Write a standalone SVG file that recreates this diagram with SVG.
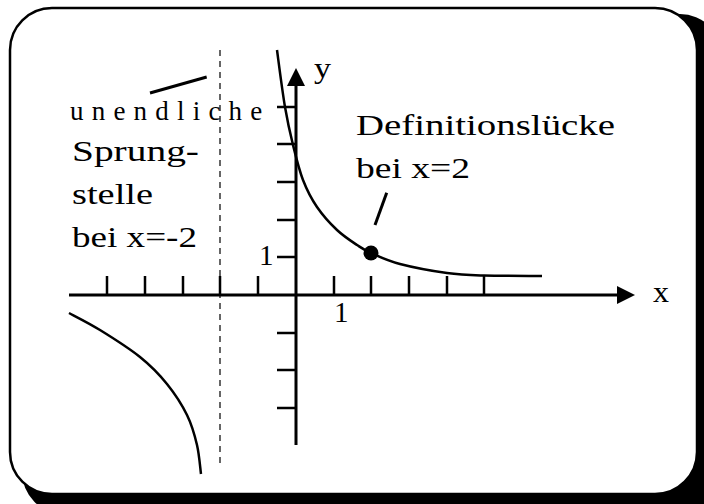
<svg xmlns="http://www.w3.org/2000/svg" width="704" height="504" viewBox="0 0 704 504">
<style>
.t{font-family:"Liberation Serif","Times New Roman",serif;font-size:29px;fill:#000}
.ax{stroke:#000;stroke-width:3;fill:none}
.tk{stroke:#000;stroke-width:2.5;fill:none}
.cv{stroke:#000;stroke-width:2.5;fill:none}
.ptr{stroke:#000;stroke-width:3;fill:none}
</style>
<g id="frame">
<rect x="22" y="14" width="700" height="500" rx="42" ry="42" fill="#000"/>
<rect x="10" y="8" width="687" height="486" rx="42" ry="42" fill="#fff" stroke="#000" stroke-width="2.5"/>
</g>
<g id="asymptote">
<line x1="220" y1="50" x2="220" y2="464" stroke="#000" stroke-width="1.2" stroke-dasharray="6 5"/>
</g>
<g id="x-axis">
<line class="ax" x1="69" y1="295" x2="620" y2="295"/>
<polygon points="635,295 617,286 617,304" fill="#000"/>
<path class="tk" d="M107,276V295M145,276V295M183,276V295M220,276V295M258,276V295M334,276V295M371,276V295M409,276V295M447,276V295M484,276V295"/>
<text class="t" x="653" y="302" textLength="16" lengthAdjust="spacingAndGlyphs">x</text>
<text class="t" x="334" y="322">1</text>
</g>
<g id="y-axis">
<line class="ax" x1="296" y1="445" x2="296" y2="84"/>
<polygon points="296,68 287,86 305,86" fill="#000"/>
<path class="tk" d="M277,107H296M277,144H296M277,182H296M277,220H296M277,257H296M277,333H296M277,370H296M277,408H296"/>
<text class="t" x="314" y="78" textLength="17" lengthAdjust="spacingAndGlyphs">y</text>
<text class="t" x="259" y="265">1</text>
</g>
<g id="right-branch">
<path class="cv" d="M277,50 C278.3,59.5 282.3,91.2 285,107 C287.7,122.8 290,132.8 293,145 C296,157.2 299,169.7 303,180 C307,190.3 311.3,198.7 317,207 C322.7,215.3 330.3,223.7 337,230 C343.7,236.3 351.3,241.2 357,245 C362.7,248.8 363.8,249.8 371,253 C378.2,256.2 387.3,260.7 400,264 C412.7,267.3 433,271.1 447,273 C461,274.9 468.2,275 484,275.5 C499.8,276 532.3,275.9 542,276"/>
<circle cx="371" cy="253" r="7.5" fill="#000"/>
</g>
<g id="left-branch">
<path class="cv" d="M69,313 C74.2,315.8 88.2,322.7 100,330 C111.8,337.3 128.8,348 140,357 C151.2,366 159.2,374.3 167,384 C174.8,393.7 182,404.8 187,415 C192,425.2 194.7,435.2 197,445 C199.3,454.8 200.3,469.2 201,474"/>
</g>
<g id="connectors">
<line class="ptr" x1="150" y1="93" x2="206.7" y2="77"/>
<line class="ptr" x1="375" y1="225" x2="386.7" y2="192.7"/>
</g>
<g id="label-sprungstelle">
<text class="t" x="70" y="120" style="font-size:27px;letter-spacing:8.2px">unendliche</text>
<text class="t" x="72" y="161" textLength="127" lengthAdjust="spacingAndGlyphs">Sprung-</text>
<text class="t" x="72" y="204" textLength="81" lengthAdjust="spacingAndGlyphs">stelle</text>
<text class="t" x="72" y="247" textLength="125" lengthAdjust="spacingAndGlyphs">bei x=-2</text>
</g>
<g id="label-definitionsluecke">
<text class="t" x="356" y="135" textLength="259" lengthAdjust="spacingAndGlyphs">Definitionslücke</text>
<text class="t" x="356" y="178" textLength="114" lengthAdjust="spacingAndGlyphs">bei x=2</text>
</g>
</svg>
